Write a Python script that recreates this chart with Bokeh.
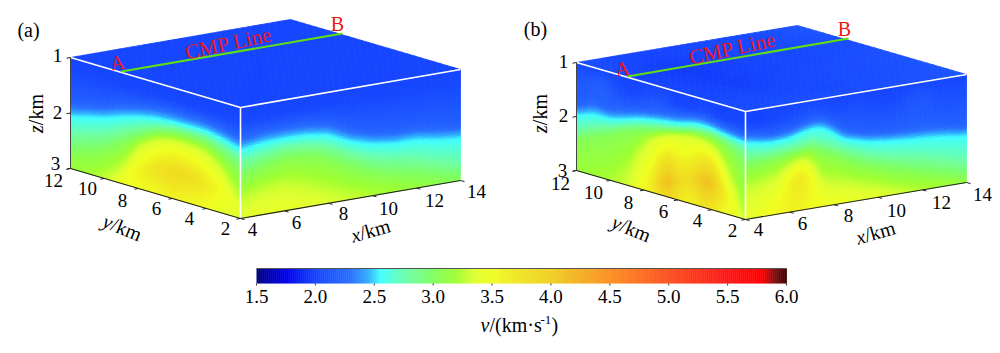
import math
import numpy as np
from bokeh.plotting import figure
from bokeh.models import Range1d, ColumnDataSource
from bokeh.core.properties import value
from bokeh.embed import file_html
from bokeh.resources import INLINE

# ---------- data ----------
cmap_v = [1.5,1.6,1.75,2.0,2.3,2.45,2.55,2.8,3.0,3.2,3.35,3.5,3.7,4.0,4.3,4.5,5.0,5.5,5.8,5.9,6.0]
cmap_c = ["#00007a","#0000b0","#0000f0","#1545ff","#2a70ff","#30b0ff","#40ffff","#70ffa0","#80ff60","#a0ff30",
          "#e0ff30","#f0ff20","#f0e820","#f0d020","#f8a820","#ff9020","#ff5020","#ff1818","#ff0000","#801010","#400000"]
cbar_ticks = [1.5,2.0,2.5,3.0,3.5,4.0,4.5,5.0,5.5,6.0]
x_ticks = [4,6,8,10,12,14]
y_ticks = [2,4,6,8,10,12]
z_ticks = [1,2,3]
levels = [2.2,2.55,2.8,3.05,3.3]

a_left = dict(
 m=[2.02,2.02,2.02,2.02,2.02,2.02,2.02,2.02,2.02,2.02,2.02],
 d=[[1.84,1.76,1.69,1.58,1.50,1.43,1.41,1.41,1.42,1.46,1.54],
    [2.07,1.985,1.91,1.80,1.71,1.65,1.63,1.62,1.61,1.67,1.76],
    [2.40,2.31,2.22,2.06,1.92,1.79,1.72,1.70,1.71,1.80,1.90],
    [2.72,2.62,2.50,2.28,2.08,1.90,1.82,1.80,1.82,1.96,2.15],
    [3.30,3.20,3.02,2.72,2.22,2.00,1.92,1.92,1.96,2.20,2.72]],
 dp=[3.4,3.3,3.3,3.0,2.7,2.55,2.5,2.5,2.55,2.6,2.9],
 vp=[3.35,3.4,3.45,3.5,3.6,3.75,3.88,3.85,3.7,3.5,3.4],
 vb=[3.15,3.2,3.3,3.4,3.5,3.55,3.6,3.55,3.5,3.4,3.35])
a_right = dict(
 m=[2.02,2.02,2.02,2.02,2.02,2.02,2.02,2.02,2.02,2.02,2.02],
 d=[[1.55,1.49,1.48,1.49,1.55,1.74,1.85,1.91,1.91,1.98,2.02],
    [1.77,1.71,1.70,1.71,1.77,1.96,2.07,2.13,2.13,2.20,2.24],
    [2.00,1.92,1.86,1.88,1.97,2.17,2.33,2.42,2.48,2.60,2.72],
    [2.28,2.15,2.06,2.08,2.20,2.42,2.60,2.72,2.80,2.90,2.98],
    [2.68,2.55,2.50,2.62,2.78,2.95,3.05,3.15,3.20,3.30,3.40]],
 dp=[3.3,3.3,3.3,3.3,3.3,3.3,3.3,3.4,3.4,3.5,3.6],
 vp=[3.42,3.5,3.5,3.48,3.45,3.42,3.42,3.4,3.4,3.38,3.36],
 vb=[3.3,3.4,3.45,3.45,3.4,3.35,3.3,3.25,3.2,3.15,3.1])
b_left = dict(
 m=[2.1,2.12,2.15,2.18,2.12,2.05,2.0,2.0,2.06,2.1,2.12,2.05,2.0,2.0,2.02,2.06,2.02,1.98,2.0,2.02,2.0],
 d=[[1.80,1.72,1.62,1.66,1.68,1.62,1.60,1.56,1.52,1.50,1.46,1.44,1.42,1.38,1.34,1.32,1.34,1.37,1.40,1.42,1.44],
    [1.98,1.92,1.875,1.865,1.87,1.84,1.79,1.73,1.69,1.655,1.63,1.605,1.59,1.54,1.50,1.49,1.50,1.53,1.55,1.57,1.58],
    [2.29,2.12,2.02,1.89,1.80,1.74,1.68,1.60,1.57,1.63,1.70],
    [2.44,2.30,2.15,1.99,1.90,1.80,1.72,1.65,1.63,1.73,2.04],
    [3.60,3.55,3.50,3.40,3.30,3.10,2.85,2.45,2.13,1.97,1.87,1.80,1.75,1.71,1.71,1.73,1.78,1.91,2.22,2.60,3.10]],
 dp=[3.8,3.8,3.7,3.7,3.6,3.5,3.3,3.1,3.0,2.9,2.8,2.72,2.65,2.6,2.55,2.5,2.5,2.55,2.7,2.9,3.2],
 vp=[3.31,3.31,3.31,3.31,3.31,3.31,3.35,3.45,3.55,3.7,4.05,4.2,3.9,3.8,3.95,4.15,4.15,3.85,3.55,3.45,3.35],
 vb=[3.1,3.1,3.1,3.1,3.1,3.15,3.25,3.4,3.5,3.6,3.85,3.9,3.7,3.6,3.6,3.75,3.75,3.6,3.45,3.4,3.35])
b_right = dict(
 m=[2.0,1.98,2.0,2.02,2.05,2.08,2.12,2.1,2.05,2.05,2.08,2.05,2.02,2.02,2.05,2.1,2.12,2.08,2.05,2.05,2.05],
 d=[[1.42,1.46,1.50,1.50,1.48,1.42,1.36,1.37,1.50,1.66,1.72,1.78,1.80,1.82,1.83,1.84,1.84,1.86,1.88,1.92,1.96],
    [1.57,1.61,1.65,1.65,1.63,1.57,1.52,1.53,1.66,1.82,1.87,1.93,1.96,1.99,2.01,2.03,2.04,2.06,2.08,2.11,2.13],
    [1.81,1.85,1.83,1.77,1.92,2.10,2.24,2.33,2.41,2.52,2.65],
    [2.03,1.98,1.93,1.88,2.08,2.30,2.45,2.58,2.69,2.80,2.90],
    [2.42,2.40,2.33,2.26,2.10,2.02,2.10,2.50,2.57,2.62,2.68,2.74,2.80,2.86,2.93,2.98,3.02,3.05,3.08,3.10,3.12]],
 dp=[3.0,3.0,3.0,2.9,2.5,2.35,2.5,3.0,3.0,3.0,3.1,3.1,3.1,3.2,3.2,3.2,3.3,3.3,3.3,3.3,3.4],
 vp=[3.42,3.45,3.5,3.55,3.62,3.72,3.55,3.5,3.48,3.48,3.46,3.45,3.45,3.44,3.42,3.42,3.4,3.38,3.37,3.36,3.35],
 vb=[3.42,3.45,3.5,3.55,3.6,3.62,3.52,3.5,3.48,3.48,3.46,3.45,3.45,3.44,3.42,3.42,3.4,3.38,3.37,3.36,3.35])
a_top = [[2.0,2.0,2.0,2.0,2.0],[2.0,2.0,2.0,2.0,2.0],[2.0,2.0,2.0,2.0,2.0],[2.0,2.0,2.0,2.0,2.0]]
b_top = [[2.05,2.08,2.05,2.08,2.1],[2.02,1.98,2.03,2.06,2.1],[2.0,1.96,2.0,2.03,2.06],[2.08,2.0,2.02,2.04,2.12]]

# ---------- layout (picture pixels) ----------
panels = [
 dict(tag="(a)", L=(70,57), F=(240,107), R=(460,69), B=(291,19), h=111, left=a_left, right=a_right, top=a_top,
      tagpos=(28,29), Apos=(117,62), Bpos=(337,23), cmp=(228,43), ab=(121,71,342,33),
      zl=[(57,55),(57,112),(55,163)], yl=[(225,228),(189,218),(156,208),(122,200),(87,188),(53,180)],
      xl=[(252,229),(296,222),(343,213),(388,208),(434,200),(476,191)], zt=(35,113), yt=(122,227), xt=(370,230)),
 dict(tag="(b)", L=(576,62), F=(745,111), R=(966,74), B=(797,25), h=108, left=b_left, right=b_right, top=b_top,
      tagpos=(535,28), Apos=(622,68), Bpos=(844,28), cmp=(732,48), ab=(627,76,848,38),
      zl=[(563,61),(563,115),(562,170)], yl=[(732,230),(697,220),(663,211),(628,202),(593,192),(560,183)],
      xl=[(758,229),(802,223),(848,215),(896,210),(941,202),(982,194)], zt=(539,113), yt=(631,228), xt=(875,232)),
]

def hexrgb(c):
    return [int(c[i:i+2],16) for i in (1,3,5)]
_rgb = np.array([hexrgb(c) for c in cmap_c],float)
def colors(v):
    v = np.asarray(v).ravel()
    r = np.interp(v,cmap_v,_rgb[:,0]); g = np.interp(v,cmap_v,_rgb[:,1]); b = np.interp(v,cmap_v,_rgb[:,2])
    return ["#%02x%02x%02x"%(int(a),int(bb),int(c)) for a,bb,c in zip(r,g,b)]

def smooth(g,n=5):
    for _ in range(n):
        q = np.pad(g,1,mode="edge")
        g = (q[:-2,1:-1]+q[2:,1:-1]+q[1:-1,:-2]+q[1:-1,2:]+2*q[1:-1,1:-1])/6
    return g

def face_grid(t,ns,nz):
    ss = (np.arange(ns)+.5)/ns
    zs = 1+2*(np.arange(nz)+.5)/nz
    rs = lambda r: np.interp(ss,np.linspace(0,1,len(r)),r)
    D = np.array([rs(r) for r in t["d"]])
    dp = rs(t["dp"]); vp = rs(t["vp"]); vb = rs(t["vb"]); mm = rs(t["m"])
    g = np.zeros((nz,ns))
    for i in range(ns):
        zn = [1.0,1.25]+list(np.maximum.accumulate(D[:,i]+np.arange(5)*.005)); vn = [2.0,mm[i]]+levels
        pz = max(dp[i],zn[-1]+.01)
        zn.append(pz); vn.append(max(vp[i],3.31))
        if pz<3.0:
            zn.append(3.0001); vn.append(vb[i])
        g[:,i] = np.interp(zs,zn,vn)
    return smooth(g)

p = figure(width=1000,height=353,x_range=Range1d(0,1000),y_range=Range1d(353,0),
           output_backend="svg",toolbar_location=None,min_border=0,outline_line_color=None)
p.axis.visible=False; p.grid.visible=False

def draw_face(P0,P1,h,g):
    nz,ns = g.shape
    xs,ys=[],[]
    x0,y0=P0; x1,y1=P1
    for k in range(nz):
        for i in range(ns):
            a,b = i/ns,(i+1)/ns
            c,d = k/nz*h,(k+1)/nz*h
            ax,ay = x0+(x1-x0)*a, y0+(y1-y0)*a
            bx,by = x0+(x1-x0)*b, y0+(y1-y0)*b
            xs.append([ax,bx,bx,ax]); ys.append([ay+c,by+c,by+d,ay+d])
    cl = colors(g)
    p.patches("xs","ys",source=ColumnDataSource(dict(xs=xs,ys=ys,c=cl)),fill_color="c",line_color="c",line_width=0.8)

def draw_top(P,t):
    L,F,R,B = P["L"],P["F"],P["R"],P["B"]
    tb = np.array(t); nu,nv=36,26
    xs,ys,vs=[],[],[]
    uu=np.linspace(0,tb.shape[1]-1,nu+1); vv=np.linspace(0,tb.shape[0]-1,nv+1)
    for j in range(nv):
        for i in range(nu):
            u0,u1=i/nu,(i+1)/nu; v0,v1=j/nv,(j+1)/nv
            f=lambda u,v:(F[0]+(R[0]-F[0])*u+(L[0]-F[0])*v, F[1]+(R[1]-F[1])*u+(L[1]-F[1])*v)
            pts=[f(u0,v0),f(u1,v0),f(u1,v1),f(u0,v1)]
            xs.append([q[0] for q in pts]); ys.append([q[1] for q in pts])
            iu=(uu[i]+uu[i+1])/2; iv=(vv[j]+vv[j+1])/2
            a=min(int(iu),tb.shape[1]-2); b=min(int(iv),tb.shape[0]-2); fu=iu-a; fv=iv-b
            vs.append(tb[b,a]*(1-fu)*(1-fv)+tb[b,a+1]*fu*(1-fv)+tb[b+1,a]*(1-fu)*fv+tb[b+1,a+1]*fu*fv)
    cl=colors(vs)
    p.patches("xs","ys",source=ColumnDataSource(dict(xs=xs,ys=ys,c=cl)),fill_color="c",line_color="c",line_width=0.8)

SERIF = value("Liberation Serif")
def txt(x,y,s,size=19,color="black",angle=0,style="normal",align="center"):
    p.text([x],[y],text=[s],text_font=SERIF,text_font_size=f"{size}px",text_color=color,angle=angle,
           text_align=align,text_baseline="middle",text_font_style=style)

def compound(cx,cy,deg,parts,size=20):
    a=math.radians(deg); total=sum(w for _,_,w in parts)*size
    d=-total/2
    for s,st,w in parts:
        txt(cx+d*math.cos(a),cy-d*math.sin(a),s,size=size,angle=a,style=st,align="left")
        d+=w*size

for P in panels:
    h=P["h"]
    draw_top(P,P["top"])
    draw_face(P["L"],P["F"],h,face_grid(P["left"],68,50))
    draw_face(P["F"],P["R"],h,face_grid(P["right"],88,50))
    L,F,R,Bk=P["L"],P["F"],P["R"],P["B"]
    p.line([L[0],F[0],R[0]],[L[1],F[1],R[1]],line_color="white",line_width=1.6)
    p.line([F[0],F[0]],[F[1],F[1]+h],line_color="white",line_width=1.6)
    p.line([L[0],L[0]],[L[1],L[1]+h],line_color="#444444",line_width=1)
    p.line([L[0],F[0],R[0]],[L[1]+h,F[1]+h,R[1]+h],line_color="#222222",line_width=1.2)
    for z in z_ticks:
        yy=L[1]+(z-1)/2*h
        p.segment([L[0]],[yy],[L[0]-4],[yy+0.7],line_color="#222222")
    for t in y_ticks:
        u=(t-2)/10
        xx=F[0]+(L[0]-F[0])*u; yy=F[1]+h+(L[1]-F[1])*u
        p.segment([xx],[yy],[xx-4],[yy+0.7],line_color="#222222")
    for t in x_ticks:
        u=(t-4)/10
        xx=F[0]+(R[0]-F[0])*u; yy=F[1]+h+(R[1]-F[1])*u
        p.segment([xx],[yy],[xx+4],[yy+1.1],line_color="#222222")
    ax,ay,bx,by=P["ab"]
    p.line([ax,bx],[ay,by],line_color="#60e010",line_width=2)
    txt(*P["Apos"],"A",size=20,color="#f01515",angle=math.radians(8))
    txt(*P["Bpos"],"B",size=20,color="#f01515")
    txt(*P["cmp"],"CMP Line",size=21,color="#f01515",angle=math.radians(12.5))
    txt(*P["tagpos"],P["tag"],size=20)
    for pos,t in zip(P["zl"],z_ticks): txt(*pos,str(t))
    for pos,t in zip(P["yl"],y_ticks): txt(*pos,str(t))
    for pos,t in zip(P["xl"],x_ticks): txt(*pos,str(t))
    compound(*P["zt"],90,[("z","italic",.389),("/km","normal",1.556)])
    compound(*P["yt"],-22,[("y","italic",.444),("/km","normal",1.556)])
    compound(*P["xt"],16,[("x","italic",.444),("/km","normal",1.556)])

# colour bar
BX0,BX1,BY0,BY1=256,786,268,283
cv=np.linspace(1.5,6.0,266)
f=lambda v:BX0+(np.asarray(v)-1.5)/4.5*(BX1-BX0)
p.quad(left=f(cv[:-1]),right=f(cv[1:])+0.4,top=BY0,bottom=BY1,fill_color=colors((cv[:-1]+cv[1:])/2),line_color=None)
p.line([BX0,BX1],[BY0,BY0],line_color="#555555",line_width=1)
for t in cbar_ticks:
    xx=float(f(t))
    p.segment([xx],[BY1],[xx],[BY1+2],line_color="#333333")
    txt(xx,296,f"{t:.1f}")
xs0=480
txt(xs0,324,"v",size=20,style="italic",align="left")
txt(xs0+9,324,"/(km·s",size=20,align="left")
txt(xs0+60,319,"-1",size=13,align="left")
txt(xs0+71,324,")",size=20,align="left")

open("out.html","w").write(file_html(p,INLINE))
